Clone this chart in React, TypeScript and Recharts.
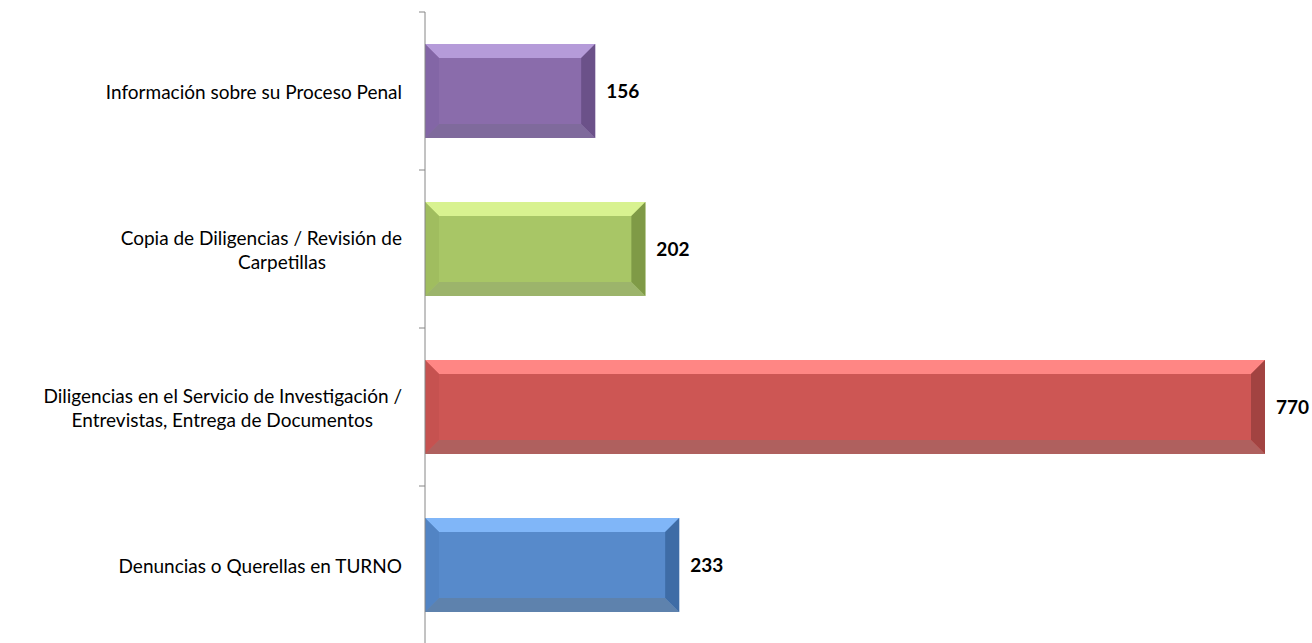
import { BarChart, Bar, XAxis, YAxis, LabelList, Cell } from 'recharts';

// categories, top to bottom; "|" marks the line break used in the picture
const categories = [
  'Información sobre su Proceso Penal',
  'Copia de Diligencias / Revisión de|Carpetillas',
  'Diligencias en el Servicio de Investigación /|Entrevistas, Entrega de Documentos',
  'Denuncias o Querellas en TURNO',
];
const values = [156, 202, 770, 233];

// bevel palette per bar: [face, top, left, right, bottom]
const palettes = [
  ['#8A6CAB', '#B59BD9', '#8366A6', '#6B5189', '#7F6A9C'],
  ['#A8C666', '#D8F290', '#A0BD5F', '#7F9A46', '#9CB46B'],
  ['#CD5654', '#FF8684', '#C65250', '#A24341', '#AF605E'],
  ['#578ACB', '#80B6F8', '#5284C4', '#3E6CA6', '#5E82AD'],
];

const data = categories.map((name, i) => ({ name, value: values[i], idx: i }));

const BEVEL = 14;
const FONT = 'Lato, "Liberation Sans", sans-serif';

const BevelBar = (props: any) => {
  const { x, y, width, height, idx } = props;
  if (!width || width <= 0) return null;
  const [face, top, left, right, bottom] = palettes[idx];
  const b = Math.min(BEVEL, width / 2, height / 2);
  const x2 = x + width;
  const y2 = y + height;
  return (
    <g>
      <rect x={x} y={y} width={width} height={height} fill={face} />
      <polygon points={`${x},${y} ${x2},${y} ${x2 - b},${y + b} ${x + b},${y + b}`} fill={top} />
      <polygon points={`${x},${y} ${x + b},${y + b} ${x + b},${y2 - b} ${x},${y2}`} fill={left} />
      <polygon points={`${x2},${y} ${x2},${y2} ${x2 - b},${y2 - b} ${x2 - b},${y + b}`} fill={right} />
      <polygon points={`${x},${y2} ${x + b},${y2 - b} ${x2 - b},${y2 - b} ${x2},${y2}`} fill={bottom} />
    </g>
  );
};

// second lines sit a bit to the left of the axis in the original
const secondLineInset = [0, 76, 29, 0];

const CategoryTick = (props: any) => {
  const { x, y, payload, index, visibleTicksCount } = props;
  const lines = String(payload.value).split('|');
  const half = 79;
  const textX = x - 23;
  return (
    <g>
      <line x1={x - 6} x2={x} y1={y - half} y2={y - half} stroke="#868686" />
      {index === visibleTicksCount - 1 && (
        <line x1={x - 6} x2={x} y1={y + half} y2={y + half} stroke="#868686" />
      )}
      {lines.map((ln, i) => (
        <text
          key={i}
          x={textX - (i > 0 ? secondLineInset[index] : 0)}
          y={y + (i - (lines.length - 1) / 2) * 24}
          textAnchor="end"
          dominantBaseline="central"
          fontFamily={FONT}
          fontSize={19}
          fill="#000"
        >
          {ln}
        </text>
      ))}
    </g>
  );
};

export default function App() {
  // fixed so the tall chart does not push a scrollbar into the window
  return (
    <div style={{ position: 'fixed', top: 8, left: 8, width: 1304, height: 640, background: '#fff' }}>
      <BarChart
        width={1304}
        height={640}
        data={data}
        layout="vertical"
        margin={{ top: 4, right: 47, bottom: 4, left: 0 }}
        barCategoryGap={32}
      >
        <XAxis type="number" domain={[0, 770]} hide />
        <YAxis
          type="category"
          dataKey="name"
          width={417}
          axisLine={{ stroke: '#868686' }}
          tickLine={false}
          tickSize={0}
          tickMargin={0}
          tick={<CategoryTick />}
          interval={0}
        />
        <Bar dataKey="value" shape={<BevelBar />} isAnimationActive={false}>
          {data.map((d) => (
            <Cell key={d.idx} fill={palettes[d.idx][0]} />
          ))}
          <LabelList
            dataKey="value"
            position="right"
            offset={11}
            fill="#000"
            fontFamily={FONT}
            fontWeight="bold"
            fontSize={19}
          />
        </Bar>
      </BarChart>
    </div>
  );
}
